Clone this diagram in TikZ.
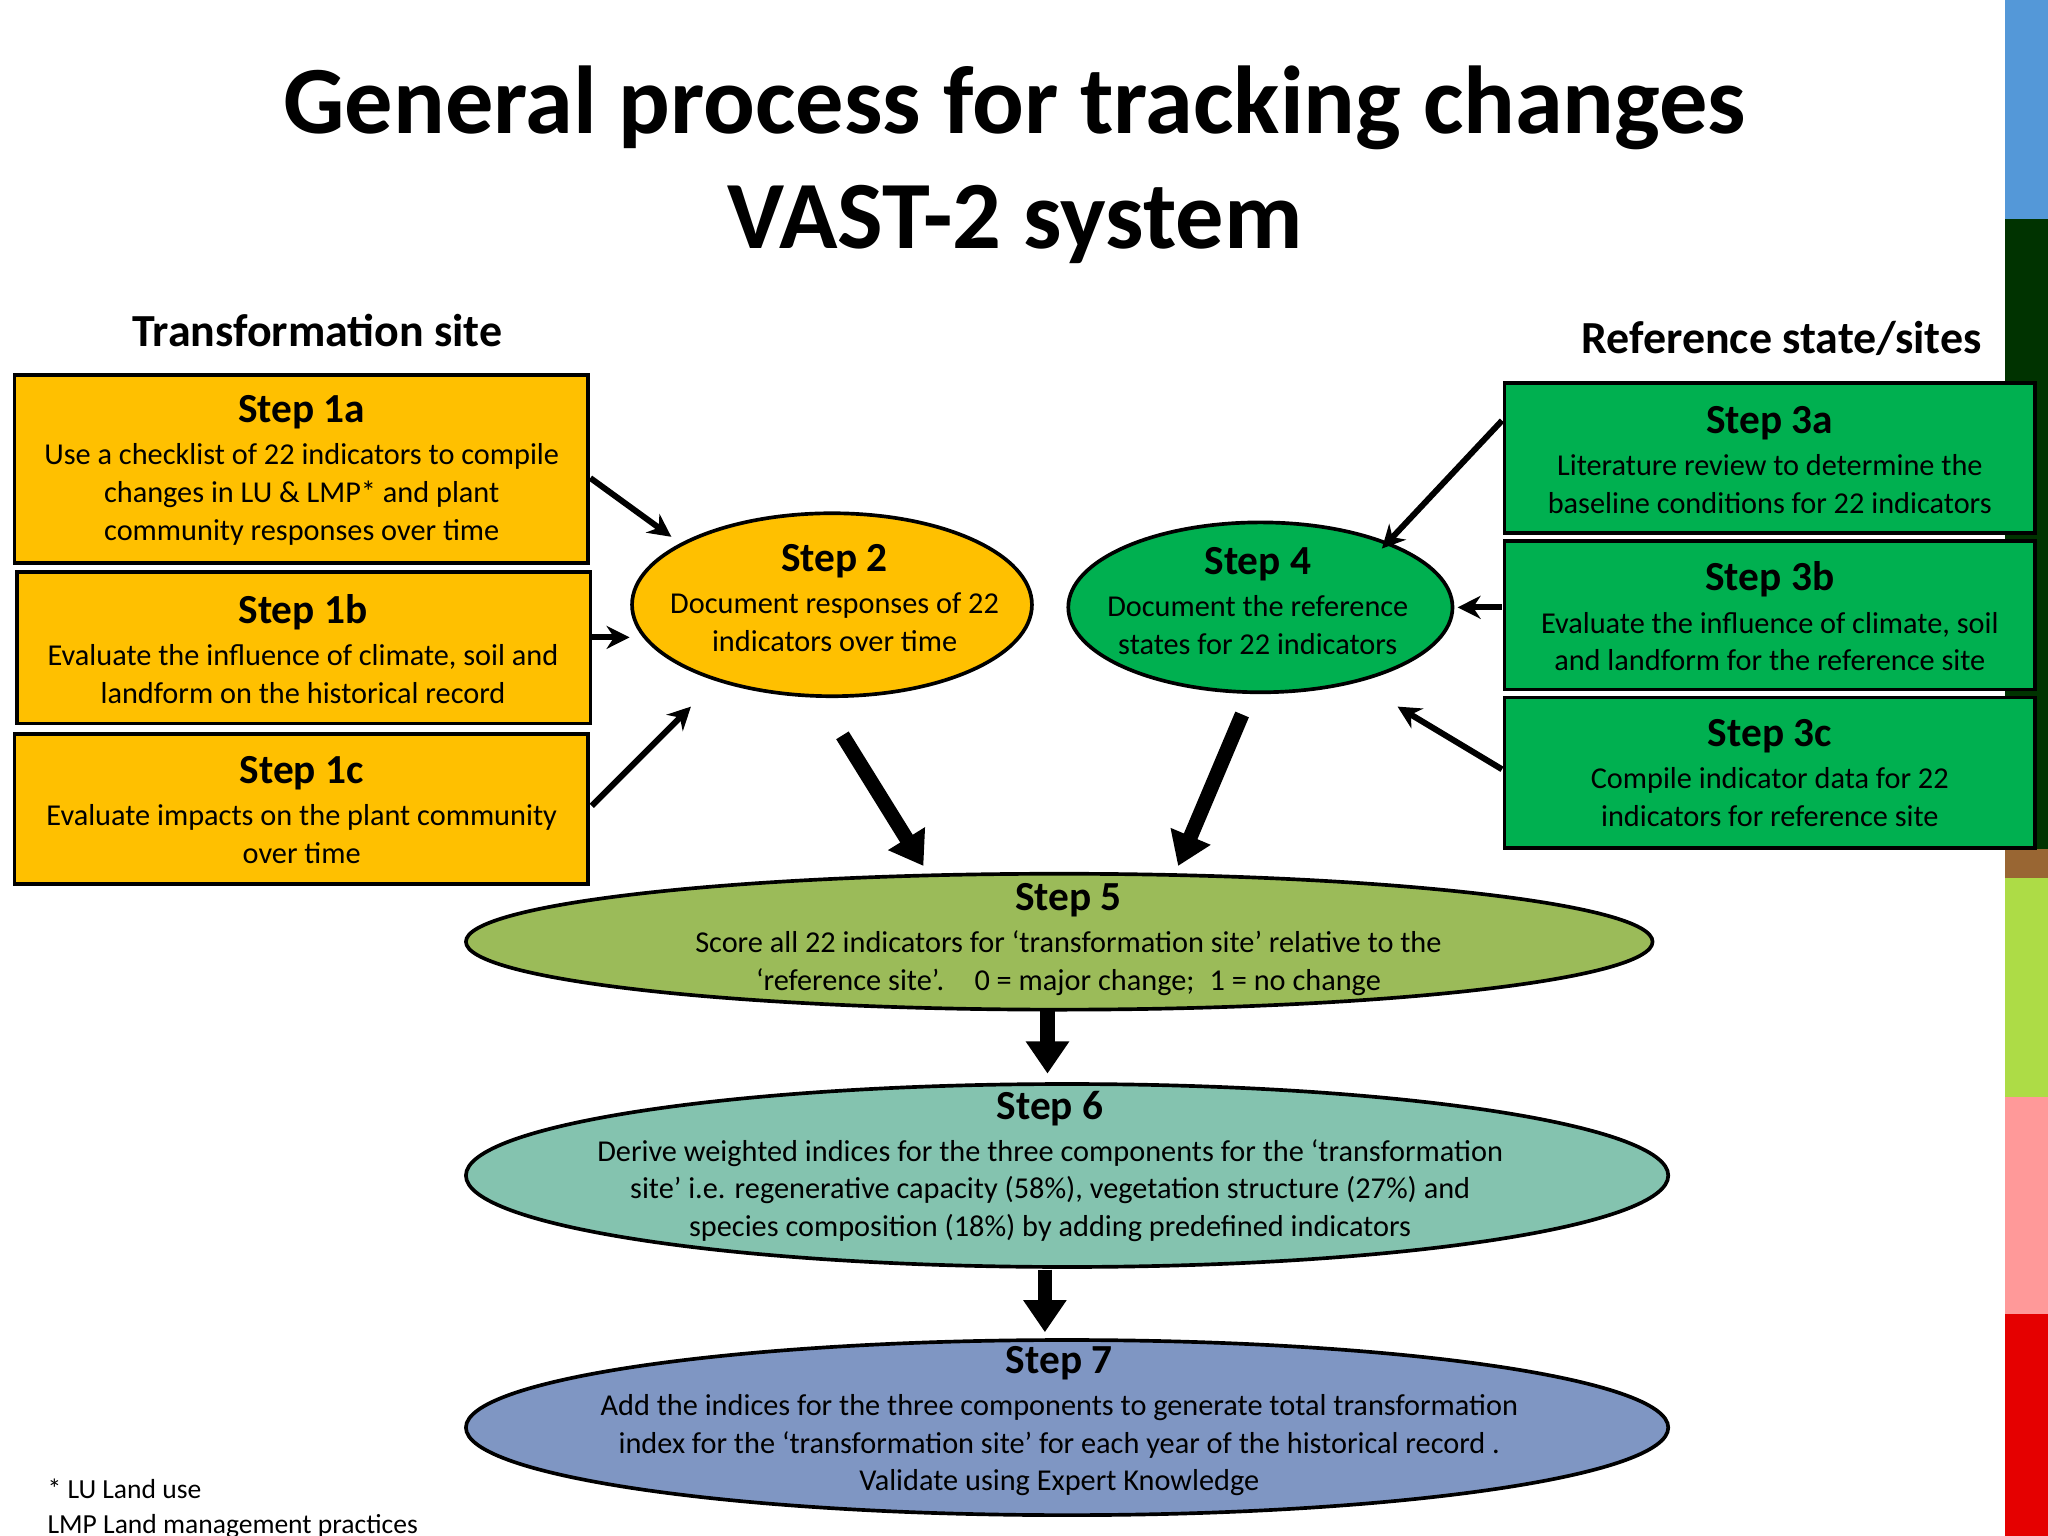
\documentclass[tikz,border=0pt]{standalone}
\usepackage{fontspec}
\setmainfont{Carlito}
\usetikzlibrary{shapes.geometric,arrows.meta}
\definecolor{yel}{HTML}{FFC000}
\definecolor{grn}{HTML}{00B050}
\definecolor{s5}{HTML}{9BBB59}
\definecolor{s6}{HTML}{84C3AF}
\definecolor{s7}{HTML}{7F96C3}
\begin{document}
\begin{tikzpicture}[x=0.01cm,y=-0.01cm,
 box/.style={draw=black,line width=0.8pt,inner sep=0pt},
 ell/.style={ellipse,draw=black,line width=0.8pt,inner sep=0pt},
 txt/.style={align=center,font=\fontsize{6.6}{8.2}\selectfont},
 thin/.style={-{Stealth[length=5pt,width=5pt]},line width=1.3pt},
 thick/.style={-{Triangle[length=7pt,width=9pt]},line width=3.2pt}]
\useasboundingbox (0,0) rectangle (1568,1176);
\fill[white] (0,0) rectangle (1568,1176);
% strip
\fill[cyan!60!blue!70] (1535,0) rectangle (1568,168);
\fill[black!80!green] (1535,168) rectangle (1568,650);
\fill[brown!80!black] (1535,650) rectangle (1568,672);
\fill[yellow!60!green!80] (1535,672) rectangle (1568,840);
\fill[pink!80!red] (1535,840) rectangle (1568,1006);
\fill[red!90!black] (1535,1006) rectangle (1568,1176);
% title
\node[font=\fontsize{21}{25}\bfseries\selectfont,align=center] (title) at (777,126) {General process for tracking changes\\VAST-2 system};
\node[font=\fontsize{10}{12}\bfseries\selectfont] (hl) at (243,253) {Transformation site};
\node[font=\fontsize{10}{12}\bfseries\selectfont] (hr) at (1364,259) {Reference state/sites};
% boxes
\fill[yel] (11,287) rectangle (450,431); \draw[box] (11,287) rectangle (450,431);
\fill[yel] (13,438) rectangle (452,554); \draw[box] (13,438) rectangle (452,554);
\fill[yel] (11,562) rectangle (450,677); \draw[box] (11,562) rectangle (450,677);
\fill[grn] (1152,293) rectangle (1558,408); \draw[box] (1152,293) rectangle (1558,408);
\fill[grn] (1152,414) rectangle (1558,528); \draw[box] (1152,414) rectangle (1558,528);
\fill[grn] (1152,534) rectangle (1558,649); \draw[box] (1152,534) rectangle (1558,649);
\node[txt] (s1a) at (231,360) {{\fontsize{9}{11}\bfseries\selectfont Step 1a}\\[1pt]Use a checklist of 22 indicators to compile\\changes in LU \& LMP* and plant\\community responses over time};
\node[txt] (s1b) at (232,497) {{\fontsize{9}{11}\bfseries\selectfont Step 1b}\\[1pt]Evaluate the influence of climate, soil and\\landform on the historical record};
\node[txt] (s1c) at (231,620) {{\fontsize{9}{11}\bfseries\selectfont Step 1c}\\[1pt]Evaluate impacts on the plant community\\over time};
\node[txt] (s3a) at (1355,352) {{\fontsize{9}{11}\bfseries\selectfont Step 3a}\\[1pt]Literature review to determine the\\baseline conditions for 22 indicators};
\node[txt] (s3b) at (1355,472) {{\fontsize{9}{11}\bfseries\selectfont Step 3b}\\[1pt]Evaluate the influence of climate, soil\\and landform for the reference site};
\node[txt] (s3c) at (1355,592) {{\fontsize{9}{11}\bfseries\selectfont Step 3c}\\[1pt]Compile indicator data for 22\\indicators for reference site};
% ellipses
\node[ell,fill=yel,minimum width=306\pgflinewidth*0+3.06cm,minimum height=1.40cm] (e2) at (637,463) {};
\node[txt] (t2) at (639,458) {{\fontsize{9}{11}\bfseries\selectfont Step 2}\\[1pt]Document responses of 22\\indicators over time};
\node[ell,fill=grn,minimum width=2.94cm,minimum height=1.30cm] (e4) at (965,465) {};
\node[txt] (t4) at (963,460) {{\fontsize{9}{11}\bfseries\selectfont Step 4}\\[1pt]Document the reference\\states for 22 indicators};
\node[ell,fill=s5,minimum width=9.08cm,minimum height=1.04cm] (e5) at (811,721) {};
\node[txt] (t5) at (818,719) {{\fontsize{9}{11}\bfseries\selectfont Step 5}\\[1pt]Score all 22 indicators for ‘transformation site’ relative to the\\‘reference site’.\quad 0 = major change;\enspace 1 = no change};
\node[ell,fill=s6,minimum width=9.2cm,minimum height=1.40cm] (e6) at (817,900) {};
\node[txt] (t6) at (804,893) {{\fontsize{9}{11}\bfseries\selectfont Step 6}\\[1pt]Derive weighted indices for the three components for the ‘transformation\\site’ i.e. regenerative capacity (58\%), vegetation structure (27\%) and\\species composition (18\%) by adding predefined indicators};
\node[ell,fill=s7,minimum width=9.2cm,minimum height=1.34cm] (e7) at (817,1093) {};
\node[txt] (t7) at (811,1088) {{\fontsize{9}{11}\bfseries\selectfont Step 7}\\[1pt]Add the indices for the three components to generate total transformation\\index for the ‘transformation site’ for each year of the historical record .\\Validate using Expert Knowledge};
\node[font=\fontsize{6}{7.5}\selectfont,align=left,anchor=north west] (fn) at (24,1120) {* LU Land use\\LMP Land management practices};
% arrow coordinates
\coordinate (a1) at (452,366); \coordinate (b1) at (514,411);
\coordinate (a2) at (453,488); \coordinate (b2) at (482,488);
\coordinate (a3) at (453,617); \coordinate (b3) at (529,541);
\coordinate (a4) at (1150,322); \coordinate (b4) at (1058,420);
\coordinate (a5) at (1150,465); \coordinate (b5) at (1116,465);
\coordinate (a6) at (1150,589); \coordinate (b6) at (1070,541);
\coordinate (c1) at (645,563); \coordinate (d1) at (707,663);
\coordinate (c2) at (951,547); \coordinate (d2) at (902,663);
\coordinate (c3) at (802,773); \coordinate (d3) at (802,822);
\coordinate (c4) at (800,972); \coordinate (d4) at (800,1020);
\draw[thin] (a1) -- (b1); \draw[thin] (a2) -- (b2); \draw[thin] (a3) -- (b3);
\draw[thin] (a4) -- (b4); \draw[thin] (a5) -- (b5); \draw[thin] (a6) -- (b6);
\draw[thick] (c1) -- (d1); \draw[thick] (c2) -- (d2);
\draw[thick] (c3) -- (d3); \draw[thick] (c4) -- (d4);
\end{tikzpicture}
\end{document}
